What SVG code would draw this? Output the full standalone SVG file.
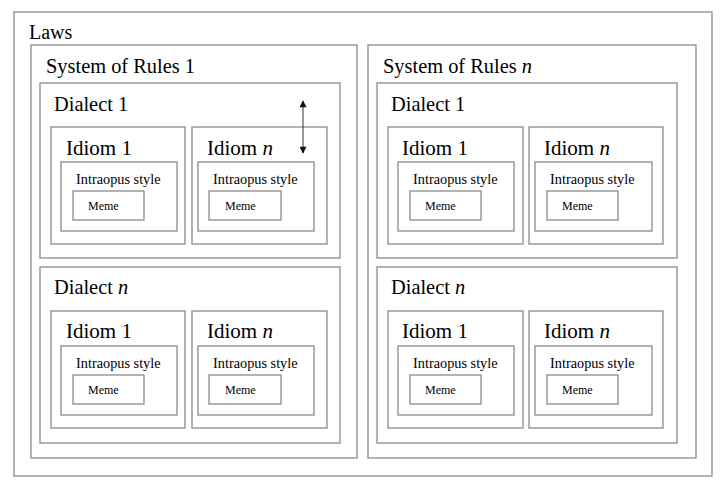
<svg xmlns="http://www.w3.org/2000/svg" width="720" height="486" viewBox="0 0 720 486">
<defs>
<style>
rect{fill:none;stroke:#8a8a8a;stroke-width:1.3}
text{font-family:"Liberation Serif","Times New Roman",serif;fill:#000}
.t1{font-size:20px}
.t2{font-size:20.4px}
.t3{font-size:21px}
.t4{font-size:14.3px}
.t5{font-size:12px}
.it{font-style:italic}
</style>
<marker id="ah" viewBox="0 0 10 10" refX="9" refY="5" markerWidth="8" markerHeight="7" orient="auto-start-reverse" markerUnits="userSpaceOnUse">
<path d="M0,0 L10,5 L0,10 z" fill="#111"/>
</marker>
</defs>
<rect x="0" y="0" width="720" height="486" style="fill:#fff;stroke:none"/>
<g id="laws"><rect x="14" y="12" width="698" height="464"/><text class="t1" x="29" y="39">Laws</text></g>

<g id="system1"><rect x="31" y="45" width="326" height="413"/><text class="t2" x="46" y="73">System of Rules 1</text></g>
<g id="s1-dialect1"><rect x="40" y="83" width="300" height="175"/><text class="t2" x="54" y="111">Dialect 1</text></g>
<g id="s1-d1-idiom1"><rect x="51" y="127" width="134" height="117"/><text class="t3" x="66" y="155">Idiom 1</text>
<rect x="61" y="162" width="116" height="69"/><text class="t4" x="76" y="184">Intraopus style</text>
<rect x="73" y="191" width="71" height="29"/><text class="t5" x="88" y="210">Meme</text></g>
<g id="s1-d1-idiomn"><rect x="192" y="127" width="135" height="117"/><text class="t3" x="207" y="155">Idiom <tspan class="it">n</tspan></text>
<rect x="198" y="162" width="116" height="69"/><text class="t4" x="213" y="184">Intraopus style</text>
<rect x="209" y="191" width="72" height="29"/><text class="t5" x="225" y="210">Meme</text></g>

<g id="s1-dialectn"><rect x="40" y="267" width="300" height="176"/><text class="t2" x="54" y="294">Dialect <tspan class="it">n</tspan></text></g>
<g id="s1-dn-idiom1"><rect x="51" y="311" width="134" height="117"/><text class="t3" x="66" y="338">Idiom 1</text>
<rect x="61" y="346" width="116" height="69"/><text class="t4" x="76" y="368">Intraopus style</text>
<rect x="73" y="375" width="71" height="29"/><text class="t5" x="88" y="394">Meme</text></g>
<g id="s1-dn-idiomn"><rect x="192" y="311" width="135" height="117"/><text class="t3" x="207" y="338">Idiom <tspan class="it">n</tspan></text>
<rect x="198" y="346" width="116" height="69"/><text class="t4" x="213" y="368">Intraopus style</text>
<rect x="209" y="375" width="72" height="29"/><text class="t5" x="225" y="394">Meme</text></g>

<g id="systemn"><rect x="368" y="45" width="328" height="413"/><text class="t2" x="383" y="73">System of Rules <tspan class="it">n</tspan></text></g>
<g id="sn-dialect1"><rect x="377" y="83" width="300" height="175"/><text class="t2" x="391" y="111">Dialect 1</text></g>
<g id="sn-d1-idiom1"><rect x="388" y="127" width="135" height="117"/><text class="t3" x="402" y="155">Idiom 1</text>
<rect x="398" y="162" width="116" height="69"/><text class="t4" x="413" y="184">Intraopus style</text>
<rect x="410" y="191" width="71" height="29"/><text class="t5" x="425" y="210">Meme</text></g>
<g id="sn-d1-idiomn"><rect x="529" y="127" width="134" height="117"/><text class="t3" x="544" y="155">Idiom <tspan class="it">n</tspan></text>
<rect x="535" y="162" width="117" height="69"/><text class="t4" x="550" y="184">Intraopus style</text>
<rect x="547" y="191" width="71" height="29"/><text class="t5" x="562" y="210">Meme</text></g>

<g id="sn-dialectn"><rect x="377" y="267" width="300" height="176"/><text class="t2" x="391" y="294">Dialect <tspan class="it">n</tspan></text></g>
<g id="sn-dn-idiom1"><rect x="388" y="311" width="135" height="117"/><text class="t3" x="402" y="338">Idiom 1</text>
<rect x="398" y="346" width="116" height="69"/><text class="t4" x="413" y="368">Intraopus style</text>
<rect x="410" y="375" width="71" height="29"/><text class="t5" x="425" y="394">Meme</text></g>
<g id="sn-dn-idiomn"><rect x="529" y="311" width="134" height="117"/><text class="t3" x="544" y="338">Idiom <tspan class="it">n</tspan></text>
<rect x="535" y="346" width="117" height="69"/><text class="t4" x="550" y="368">Intraopus style</text>
<rect x="547" y="375" width="71" height="29"/><text class="t5" x="562" y="394">Meme</text></g>

<g id="connectors">
<line x1="303" y1="101" x2="303" y2="153" stroke="#333" stroke-width="1" marker-start="url(#ah)" marker-end="url(#ah)"/>
</g>
</svg>
